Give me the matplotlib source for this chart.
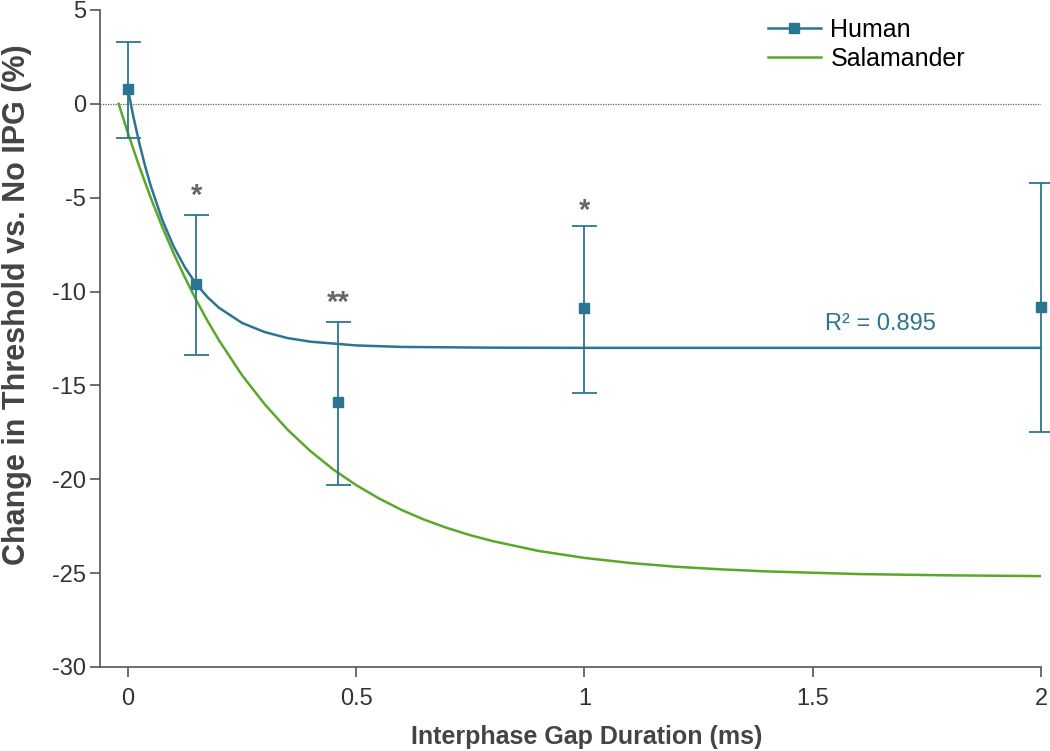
import matplotlib
matplotlib.use("Agg")
import matplotlib.pyplot as plt

plt.rcParams['font.family'] = ['Liberation Sans', 'DejaVu Sans']
plt.rcParams['axes.unicode_minus'] = False

# human measurements (mean, error bar ends)
ipg = [0, 0.15, 0.46, 1, 2]
human_mean = [0.8, -9.6, -15.9, -10.9, -10.8]
err_top = [3.3, -5.9, -11.6, -6.5, -4.2]
err_bot = [-1.8, -13.4, -20.3, -15.4, -17.5]

# fitted curves
human_fit_x = [0, 0.0125, 0.025, 0.0375, 0.05, 0.075, 0.1, 0.125, 0.15, 0.175,
               0.2, 0.25, 0.3, 0.35, 0.4, 0.5, 0.6, 0.8, 1.0, 1.5, 2.0]
human_fit_y = [0.8, -0.72, -2.07, -3.28, -4.35, -6.15, -7.58, -8.71, -9.61,
               -10.31, -10.87, -11.67, -12.16, -12.48, -12.67, -12.87, -12.95,
               -12.99, -13.0, -13.0, -13.0]
sal_fit_x = [-0.02, 0, 0.025, 0.05, 0.075, 0.1, 0.125, 0.15, 0.175, 0.2, 0.25,
             0.3, 0.35, 0.4, 0.45, 0.5, 0.55, 0.6, 0.65, 0.7, 0.75, 0.8, 0.9,
             1.0, 1.1, 1.2, 1.3, 1.4, 1.6, 1.8, 2.0]
sal_fit_y = [0, -1.54, -3.33, -4.99, -6.53, -7.95, -9.25, -10.46, -11.58,
             -12.61, -14.45, -16.01, -17.36, -18.50, -19.48, -20.31, -21.02,
             -21.64, -22.16, -22.60, -22.98, -23.30, -23.82, -24.19, -24.46,
             -24.66, -24.80, -24.91, -25.05, -25.12, -25.16]

# significance marks
sig_x = [0.15, 0.46, 1]
sig_y = [-4.9, -10.6, -5.7]
sig_txt = ['*', '**', '*']

blue = '#2b7590'
green = '#5aa82a'
gray = '#555555'

fig = plt.figure(figsize=(10.5, 7.51), dpi=100)
ax = fig.add_axes([0.0952, 0.1119, 0.8962, 0.8748])

ax.axhline(0, color='#666666', lw=0.9, ls=(0, (1, 1)), zorder=1)

ax.plot(sal_fit_x, sal_fit_y, color=green, lw=1.8, zorder=2)
ax.plot(human_fit_x, human_fit_y, color=blue, lw=1.8, zorder=3)

lower = [m - b for m, b in zip(human_mean, err_bot)]
upper = [t - m for m, t in zip(human_mean, err_top)]
ax.errorbar(ipg, human_mean, yerr=[lower, upper], fmt='s', color=blue,
            ms=7, elinewidth=1.3, capsize=9, capthick=1.3, clip_on=False,
            zorder=4)

# legend proxies
h_human, = ax.plot([], [], color=blue, lw=1.8, marker='s', ms=7)
h_sal, = ax.plot([], [], color=green, lw=1.8)
ax.legend([h_human, h_sal], ['Human', 'Salamander'], loc='upper left',
          bbox_to_anchor=(768 / 1050, 1 - 18 / 751),
          bbox_transform=fig.transFigure, frameon=False, fontsize=18,
          handlelength=2.1, labelspacing=0.18, handletextpad=0.4,
          borderpad=0, borderaxespad=0)

for x, y, t in zip(sig_x, sig_y, sig_txt):
    ax.text(x, y, t, ha='center', va='center', fontsize=21, color='#666666',
            fontweight='bold')

ax.text(1.527, -11.75, 'R² = 0.895', color=blue, fontsize=17,
        ha='left', va='center')

ax.set_xlim(-0.061, 2.0)
ax.set_ylim(-30, 5)
ax.set_xticks([0, 0.5, 1, 1.5, 2])
ax.set_xticklabels(['0', '0.5', '1', '1.5', '2'])
ax.set_yticks(range(-30, 6, 5))

for s in ['top', 'right']:
    ax.spines[s].set_visible(False)
for s in ['left', 'bottom']:
    ax.spines[s].set_color(gray)
    ax.spines[s].set_linewidth(1.2)
ax.tick_params(colors=gray, labelcolor='#333333', labelsize=17, length=7,
               width=1.2)
ax.tick_params(axis='x', pad=8)
ax.tick_params(axis='y', pad=3)

ax.set_xlabel('Interphase Gap Duration (ms)', fontsize=18, fontweight='bold',
              color='#444444', labelpad=12)
ax.xaxis.set_label_coords(0.5175, -0.0885)
ax.set_ylabel('Change in Threshold vs. No IPG (%)', fontsize=22,
              fontweight='bold', color='#444444')
ax.yaxis.set_label_coords(-0.0723, 0.551)

fig.savefig('out.png', dpi=100)
